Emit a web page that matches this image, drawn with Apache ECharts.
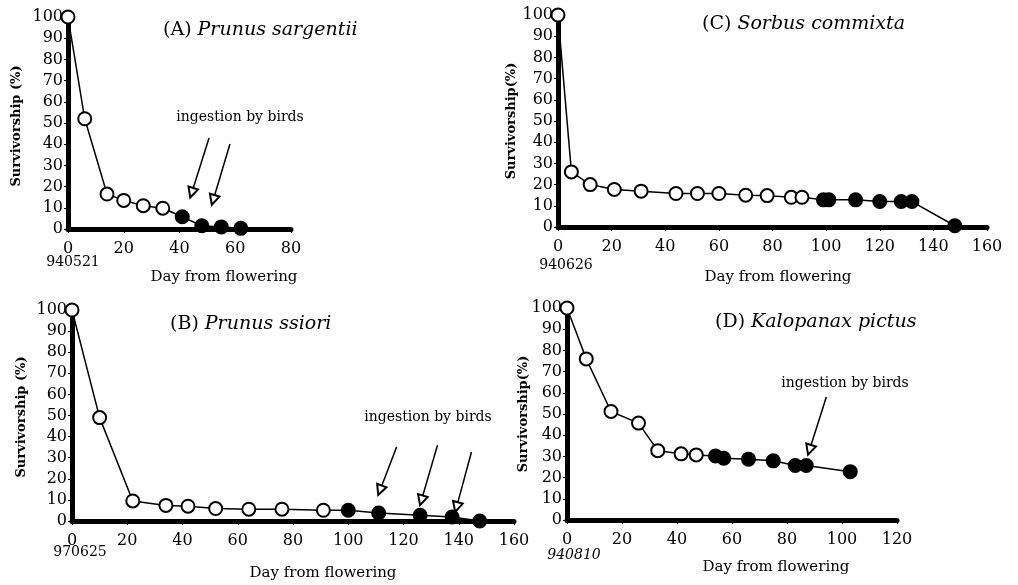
<!DOCTYPE html>
<html>
<head>
<meta charset="utf-8">
<script src="https://cdn.jsdelivr.net/npm/echarts@6/dist/echarts.min.js"></script>
</head>
<body style="margin:0;background:#fff">
<div id="main" style="width:1018px;height:585px"></div>
<script>
// (A) Prunus sargentii
var aDays   = [0, 6, 14, 20, 27, 34, 41, 48, 55, 62];
var aSurv   = [100, 52, 16.5, 13.5, 11, 9.8, 5.8, 1.5, 1, 0.3];
var aFilled = [0, 0, 0, 0, 0, 0, 1, 1, 1, 1];
var aArrows = [[50.6, 42.9, 44.4, 17.1], [58.1, 40.1, 52.1, 13.7]];

// (B) Prunus ssiori
var bDays   = [0, 10, 22, 34, 42, 52, 64, 76, 91, 100, 111, 126, 137.6, 147.6];
var bSurv   = [100, 49, 9.5, 7.4, 7, 5.9, 5.6, 5.6, 5.1, 5.1, 3.8, 2.7, 1.9, 0];
var bFilled = [0, 0, 0, 0, 0, 0, 0, 0, 0, 1, 1, 1, 1, 1];
var bArrows = [[117.5, 35.1, 111.5, 14.6], [132.3, 35.9, 126.5, 9.8], [144.6, 32.7, 139.2, 6.6]];

// (C) Sorbus commixta
var cDays   = [0, 5, 12, 21, 31, 44, 52, 60, 70, 78, 87, 91, 99, 101, 111, 120, 128, 132, 148];
var cSurv   = [100, 26, 20, 17.7, 16.9, 15.8, 15.8, 15.8, 15, 14.8, 14, 14, 12.8, 12.8, 12.8, 12, 12, 12, 0.6];
var cFilled = [0, 0, 0, 0, 0, 0, 0, 0, 0, 0, 0, 0, 1, 1, 1, 1, 1, 1, 1];

// (D) Kalopanax pictus
var dDays   = [0, 7, 16, 26, 33, 41.5, 47, 54, 57, 66, 75, 83, 87, 103];
var dSurv   = [100, 76, 51.2, 45.7, 32.7, 31.2, 30.7, 30.2, 29.1, 28.7, 27.9, 25.7, 25.7, 22.8];
var dFilled = [0, 0, 0, 0, 0, 0, 0, 1, 1, 1, 1, 1, 1, 1];
var dArrows = [[94.3, 58, 88.2, 33.1]];

var serif = 'DejaVu Serif';

var myChart = echarts.init(document.getElementById('main'));

function pts(days, vals, filled) {
	var out = [];
	for (var i = 0; i < days.length; i++) {
		out.push({
			value: [days[i], vals[i]],
			itemStyle: { color: filled[i] ? '#000' : '#fff' }
		});
	}
	return out;
}

function arrowData(list) {
	var out = [];
	for (var i = 0; i < list.length; i++) {
		out.push([{ coord: [list[i][0], list[i][1]] }, { coord: [list[i][2], list[i][3]] }]);
	}
	return out;
}

function makeX(idx, max) {
	return {
		gridIndex: idx, type: 'value', min: 0, max: max, interval: 20,
		axisLine: { lineStyle: { color: '#000', width: 5 } },
		axisTick: { show: true, length: 4, lineStyle: { color: '#000', width: 1 } },
		axisLabel: { color: '#000', fontFamily: serif, fontSize: 16, margin: 12 },
		splitLine: { show: false }
	};
}

function makeY(idx) {
	return {
		gridIndex: idx, type: 'value', min: 0, max: 100, interval: 10,
		axisLine: { show: true, lineStyle: { color: '#000', width: 5 } },
		axisTick: { show: true, length: 4, lineStyle: { color: '#000', width: 1 } },
		axisLabel: { color: '#000', fontFamily: serif, fontSize: 16, margin: 5 },
		splitLine: { show: false }
	};
}

function makeSeries(idx, days, vals, filled, arrows) {
	var s = {
		type: 'line', xAxisIndex: idx, yAxisIndex: idx,
		data: pts(days, vals, filled),
		symbol: 'circle', symbolSize: 13,
		clip: false,
		lineStyle: { color: '#000', width: 1.5 },
		itemStyle: { borderColor: '#000', borderWidth: 2 },
		animation: false
	};
	if (arrows) {
		s.markLine = {
			silent: true,
			symbol: ['none', 'emptyTriangle'],
			symbolSize: 10,
			label: { show: false },
			lineStyle: { color: '#000', width: 1.5, type: 'solid' },
			data: arrowData(arrows),
			animation: false
		};
	}
	return s;
}

function titleRich(left, top, head, name) {
	return {
		left: left, top: top, padding: 0,
		text: '{n|' + head + '}{i|' + name + '}',
		textStyle: {
			fontWeight: 'normal',
			rich: {
				n: { fontFamily: serif, fontSize: 19, fontWeight: 'normal', color: '#000' },
				i: { fontFamily: serif, fontSize: 19, fontWeight: 'normal', fontStyle: 'italic', color: '#000' }
			}
		}
	};
}

function txt(x, y, text, opts) {
	opts = opts || {};
	return {
		type: 'text', x: x, y: y, rotation: opts.rot || 0,
		style: {
			text: text, fontFamily: serif, fontSize: opts.size || 15,
			fontWeight: opts.bold ? 'bold' : 'normal',
			fontStyle: opts.italic ? 'italic' : 'normal',
			fill: '#000', align: 'center', verticalAlign: 'middle'
		}
	};
}

option = {
	backgroundColor: '#fff',
	animation: false,
	title: [
		titleRich(163, 21, '(A) ', 'Prunus sargentii'),
		titleRich(702, 15, '(C) ', 'Sorbus commixta'),
		titleRich(170, 315, '(B) ', 'Prunus ssiori'),
		titleRich(715, 313, '(D) ', 'Kalopanax pictus')
	],
	grid: [
		{ left: 68, top: 17, width: 223, height: 212 },
		{ left: 558, top: 15, width: 429, height: 212 },
		{ left: 72, top: 310, width: 442, height: 211 },
		{ left: 567, top: 308, width: 330, height: 212 }
	],
	xAxis: [makeX(0, 80), makeX(1, 160), makeX(2, 160), makeX(3, 120)],
	yAxis: [makeY(0), makeY(1), makeY(2), makeY(3)],
	series: [
		makeSeries(0, aDays, aSurv, aFilled, aArrows),
		makeSeries(1, cDays, cSurv, cFilled, null),
		makeSeries(2, bDays, bSurv, bFilled, bArrows),
		makeSeries(3, dDays, dSurv, dFilled, dArrows)
	],
	graphic: [
		txt(17, 126, 'Survivorship (%)', { rot: Math.PI / 2, bold: true, size: 13 }),
		txt(512, 121, 'Survivorship(%)', { rot: Math.PI / 2, bold: true, size: 13 }),
		txt(22, 417, 'Survivorship (%)', { rot: Math.PI / 2, bold: true, size: 13 }),
		txt(524, 414, 'Survivorship(%)', { rot: Math.PI / 2, bold: true, size: 13 }),
		txt(224, 277, 'Day from flowering'),
		txt(778, 277, 'Day from flowering'),
		txt(323, 573, 'Day from flowering'),
		txt(776, 567, 'Day from flowering'),
		txt(73, 262, '940521', { size: 14 }),
		txt(566, 265, '940626', { size: 14 }),
		txt(80, 552, '970625', { size: 14 }),
		txt(574, 555, '940810', { italic: true, size: 14 }),
		txt(240, 117, 'ingestion by birds', { size: 14 }),
		txt(428, 417, 'ingestion by birds', { size: 14 }),
		txt(845, 383, 'ingestion by birds', { size: 14 })
	]
};
myChart.setOption(option);
</script>
</body>
</html>
